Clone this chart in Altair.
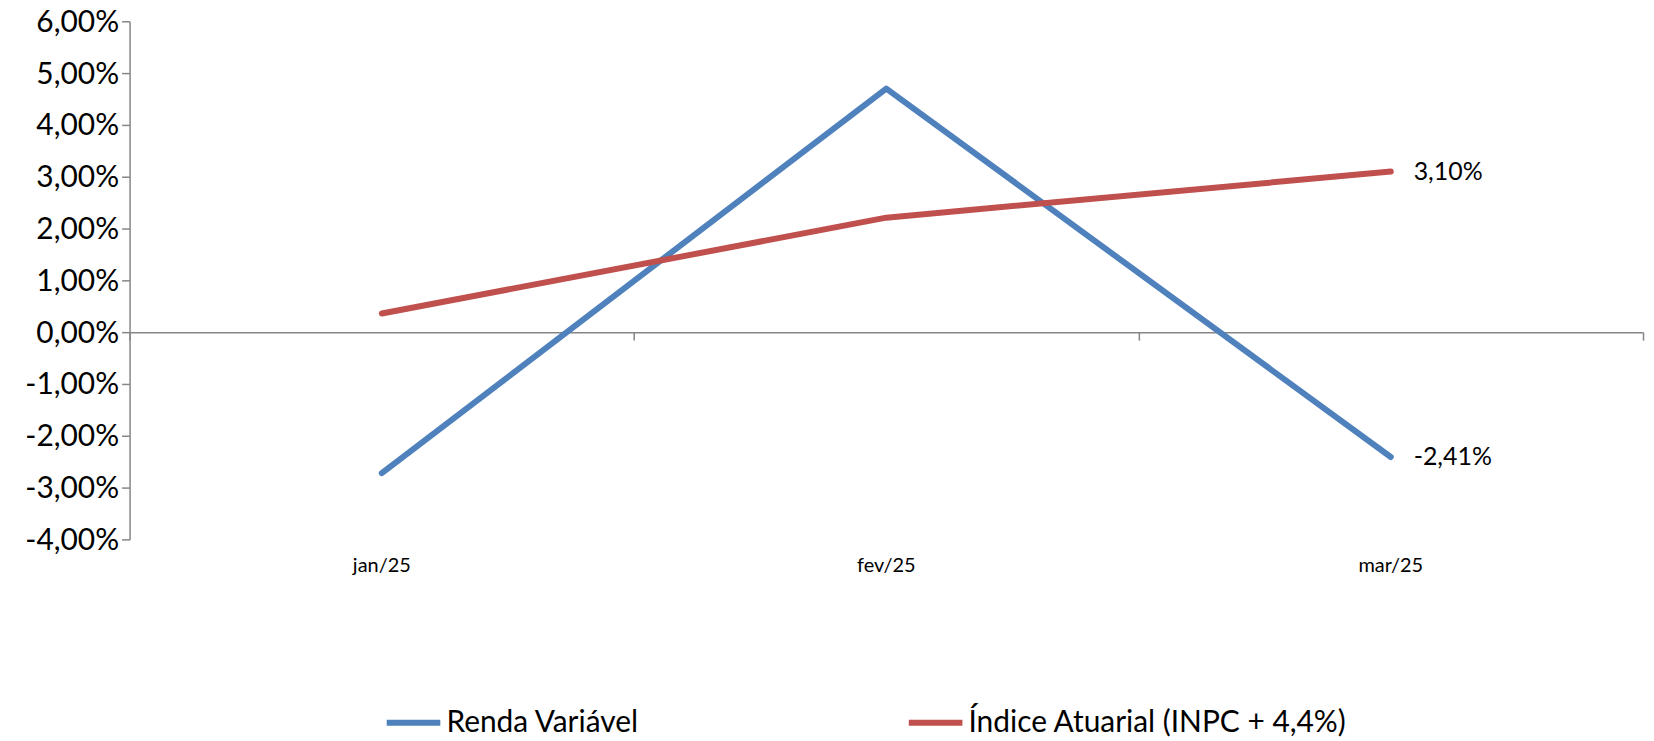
import altair as alt
import pandas as pd

months = ["jan/25", "fev/25", "mar/25"]
series = ["Renda Variável", "Índice Atuarial (INPC + 4,4%)"]
renda = [-2.72, 4.70, -2.41]
indice = [0.36, 2.21, 3.10]
y_ticks = [-4, -3, -2, -1, 0, 1, 2, 3, 4, 5, 6]
colors = ["#4F81BD", "#C0504D"]

rows = []
for s, vals in zip(series, [renda, indice]):
    for m, v in zip(months, vals):
        rows.append({"mes": m, "serie": s, "valor": v})
df = pd.DataFrame(rows)

FONT = "Lato"
GRAY = "#868686"
fmt = "replace(replace(format(datum.value, '.2f'), '.', ','), '\u2212', '-') + '%'"

x_scale = alt.Scale(domain=months, type="band", paddingInner=0, paddingOuter=0)
y_scale = alt.Scale(domain=[-4, 6], nice=False, zero=False)

lines = alt.Chart(df).mark_line(strokeWidth=6, strokeCap="round", strokeJoin="round").encode(
    x=alt.X("mes:N", scale=x_scale, sort=months, bandPosition=0.5, title="",
            axis=alt.Axis(orient="bottom", domain=False, ticks=False, labelAngle=0,
                          labelFontSize=20, labelFont=FONT, labelColor="#000000",
                          labelPadding=16, labelBaseline="top", grid=False)),
    y=alt.Y("valor:Q", scale=y_scale, title="",
            axis=alt.Axis(values=y_ticks, labelExpr=fmt, labelFontSize=30, labelFont=FONT,
                          labelColor="#000000", tickSize=8, tickColor=GRAY, tickWidth=1.5,
                          labelBaseline="alphabetic", labelOffset=10,
                          domainColor=GRAY, domainWidth=1.5, labelPadding=3, grid=False)),
    color=alt.Color("serie:N", scale=alt.Scale(domain=series, range=colors), sort=series,
                    legend=alt.Legend(title=None, orient="none", legendX=255, legendY=674,
                                      direction="horizontal", symbolType="stroke",
                                      symbolSize=2894, symbolStrokeWidth=6,
                                      labelFontSize=30, labelFont=FONT, labelColor="#000000",
                                      labelOffset=3, columnPadding=258, labelLimit=600,
                                      padding=0)),
)

labels = alt.Chart(df).transform_filter(
    alt.datum.mes == months[-1]
).transform_calculate(
    txt="replace(replace(format(datum.valor, '.2f'), '.', ','), '\u2212', '-') + '%'"
).mark_text(align="left", baseline="middle", dx=23, fontSize=25, font=FONT, color="#000000").encode(
    x=alt.X("mes:N", scale=x_scale, sort=months, bandPosition=0.5, title="",
            axis=alt.Axis(orient="bottom", labels=False, offset=-208, domain=True,
                          domainColor=GRAY, domainWidth=1.5, ticks=True, tickBand="extent",
                          tickSize=8, tickColor=GRAY, tickWidth=1.5, grid=False)),
    y=alt.Y("valor:Q", scale=y_scale),
    text="txt:N",
)

chart = alt.layer(lines, labels).resolve_axis(x="independent").properties(
    width=1519, height=520,
    background="#ffffff",
    autosize=alt.AutoSizeParams(type="none"),
    padding={"left": 122, "top": 12, "right": 3, "bottom": 200},
).configure_view(stroke=None)

chart.save("out.html", embed_options={"renderer": "svg", "actions": False})
